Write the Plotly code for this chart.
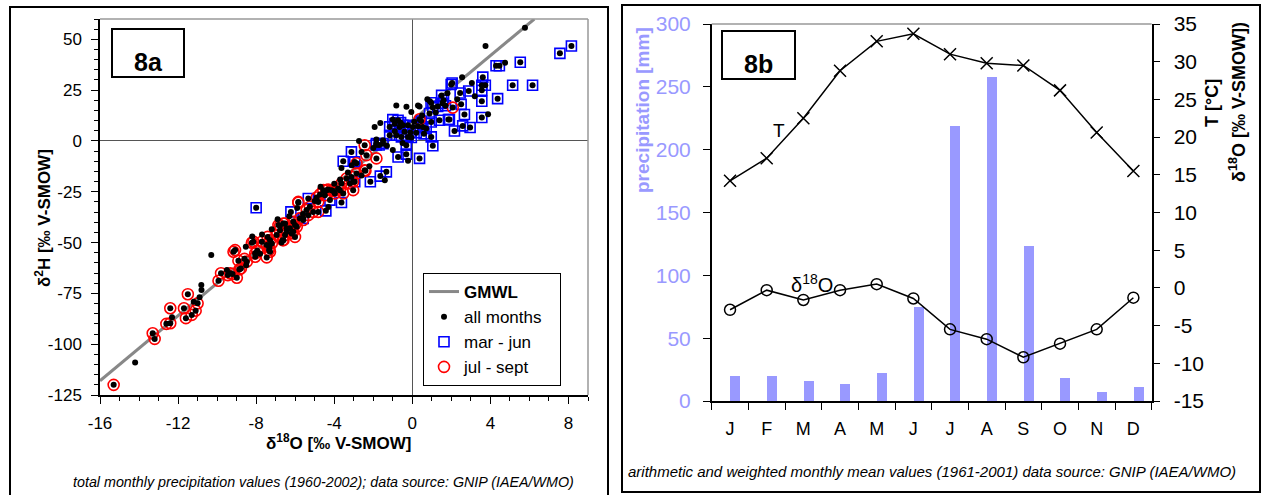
import plotly.graph_objects as go

W, H = 1263, 495

# ---------------- Panel 8a data (delta18O, delta2H) ----------------
gmwl_x = [-16.0, 6.25]
gmwl_y = [-118.0, 60.0]

marjun = [
    (8.15, 46.7), (7.56, 43.1), (5.53, 38.7), (4.29, 37.0), (4.46, 37.0), (5.14, 27.4), (6.16, 27.4),
    (3.61, 31.4), (3.56, 27.4), (3.74, 27.4), (3.56, 24.9), (4.37, 20.8), (3.56, 19.5), (3.56, 11.5),
    (2.04, 28.5), (2.45, 23.6), (2.89, 24.6), (2.50, 18.0), (2.67, 13.0), (2.58, 7.4), (2.96, 6.6),
    (2.16, 4.9), (1.90, 10.5), (1.99, 27.8), (1.50, 22.4), (1.60, 20.0), (1.70, 17.3), (1.55, 18.5),
    (1.30, 17.0), (0.96, 18.8), (1.05, 16.5), (1.39, 10.2), (1.85, 10.5), (0.97, 9.3), (0.88, 13.5),
    (0.97, 2.0), (1.05, -2.4), (0.37, -8.6),
    (-1.16, 6.9), (-0.90, 8.5), (-0.73, 10.2), (-0.65, 6.9), (-0.48, 7.7), (-0.22, 7.7), (0.03, 6.9),
    (0.29, 7.2), (0.54, 6.9), (0.71, 6.1), (-1.16, 2.8), (-0.82, 2.8), (-0.56, 2.0), (-0.22, 2.0),
    (-0.05, 1.7), (-0.40, 4.5), (-0.90, 4.8), (0.20, 4.0), (-0.31, -2.1), (-0.73, -7.9), (-0.31, -6.5),
    (-1.70, -2.0), (-1.85, -2.0), (-1.84, -1.3), (-1.50, -1.3), (-3.12, -5.4), (-3.54, -10.0),
    (-2.95, -10.3), (-1.33, -15.2), (-1.64, -17.3), (-2.15, -20.1), (-2.95, -20.1), (-3.63, -30.3),
    (-4.22, -29.1), (-5.33, -28.3), (-4.43, -34.4), (-5.59, -38.1), (-8.00, -32.9), (-6.22, -34.9),
    (-0.60, 9.0), (-1.00, 10.5), (0.45, 9.8), (-0.10, 4.2), (0.60, 3.5),
]

julsep = [
    (-15.3, -120.0), (-13.3, -94.6), (-13.2, -97.4), (-12.6, -90.0), (-12.4, -89.7), (-12.4, -82.3),
    (-11.7, -82.3), (-11.6, -87.2), (-11.5, -75.4), (-11.3, -85.6), (-11.1, -83.5), (-11.0, -79.9),
    (-9.93, -68.8), (-9.80, -65.1), (-9.45, -66.0), (-9.33, -65.1), (-9.21, -65.5), (-9.08, -53.7),
    (-9.16, -54.5), (-8.99, -67.3), (-8.86, -63.2), (-8.91, -58.9), (-8.78, -62.7), (-8.48, -59.4),
    (-8.60, -58.0), (-8.14, -49.6), (-8.05, -57.0), (-8.05, -55.3), (-7.95, -54.0), (-7.46, -57.3),
    (-7.29, -54.5), (-7.32, -52.4), (-6.64, -48.8), (-7.41, -47.2), (-7.29, -48.8), (-7.20, -50.4),
    (-7.46, -51.2), (-7.71, -49.6), (-7.34, -53.7), (-8.22, -50.1), (-6.78, -41.7), (-6.52, -40.6),
    (-6.27, -43.0), (-6.10, -44.7), (-5.92, -42.2), (-6.44, -44.7), (-6.60, -48.8), (-5.84, -30.4),
    (-2.44, -14.4), (-2.86, -16.0), (-3.12, -17.7), (-3.37, -18.5), (-3.03, -20.1), (-3.63, -20.9),
    (-3.20, -20.9), (-3.80, -23.4), (-3.03, -24.2), (-3.97, -25.8), (-4.14, -24.2), (-4.39, -24.2),
    (-4.56, -24.2), (-4.48, -26.7), (-3.71, -24.2), (-4.82, -30.0), (-5.25, -32.4), (-5.84, -30.0),
    (-5.41, -34.0), (-5.08, -34.9), (-4.82, -34.9), (-5.33, -36.5), (-5.59, -38.9), (-6.10, -39.8),
    (-6.01, -41.4), (-6.61, -40.6), (-6.86, -41.4), (-6.78, -43.9), (-6.44, -43.0), (-6.18, -45.5),
    (-6.01, -47.2), (-6.52, -46.3), (-6.95, -46.3),
    (-2.44, -2.1), (-2.35, -7.0), (-1.84, -8.6), (-2.86, -11.0), (-2.40, -14.7), (-3.54, -25.8),
    (-4.05, -24.6), (-4.31, -23.9), (-4.73, -26.3), (-4.90, -27.8), (-5.76, -38.1), (0.37, 10.7),
    (2.07, 16.4),
]

other_months = [
    (5.77, 55.7), (3.75, 46.7), (4.75, 38.5), (3.88, 13.1), (2.55, 31.4), (3.05, 28.5), (3.20, 22.0),
    (0.77, 20.5), (-0.82, 17.5), (-0.05, 14.2), (0.29, 17.5), (0.37, 17.0), (-1.93, 6.9), (-1.64, 8.8),
    (-2.73, 0.0), (-1.84, 0.7), (-1.50, 0.3), (-1.30, -2.4), (-0.22, -9.8), (-1.41, -19.3),
    (-3.63, -13.3), (-2.00, -3.5), (-2.60, -5.5), (-3.10, -12.0), (-3.30, -15.5), (-2.60, -17.0),
    (-4.00, -21.0), (-4.70, -22.5), (-5.00, -29.5), (-5.90, -33.0), (-6.30, -37.0), (-6.90, -38.5),
    (-7.20, -43.5), (-7.70, -46.0), (-8.20, -47.0), (-8.53, -52.1), (-8.51, -61.1), (-10.3, -56.1),
    (-10.81, -70.9), (-10.80, -73.3), (-10.90, -76.9), (-11.20, -79.1), (-12.31, -86.7),
    (-14.2, -109.0), (-4.30, -32.5), (-5.60, -36.0), (-2.20, -12.5), (0.50, 12.5), (1.20, 14.0),
    (2.30, 20.5), (-0.50, -1.0), (-1.00, -4.5), (0.10, 9.5), (-3.70, -19.0), (-6.70, -50.0),
    (-7.80, -55.5), (-9.50, -63.5), (0.90, 19.5), (-0.30, 16.8), (1.80, 23.5),
]

a_xticks = [-16, -12, -8, -4, 0, 4, 8]
a_yticks = [-125, -100, -75, -50, -25, 0, 25, 50]

# ---------------- Panel 8b data ----------------
months = ["J", "F", "M", "A", "M ", "J ", "J  ", "A ", "S", "O", "N", "D"]
month_labels = ["J", "F", "M", "A", "M", "J", "J", "A", "S", "O", "N", "D"]
precip = [20, 20, 16, 13.5, 22, 75, 219, 258, 123, 18, 7, 11]
temp = [14.2, 17.2, 22.5, 28.8, 32.7, 33.7, 31.0, 29.8, 29.5, 26.2, 20.6, 15.5]
d18o = [-2.9, -0.3, -1.6, -0.3, 0.5, -1.4, -5.5, -6.8, -9.2, -7.4, -5.5, -1.3]
precip_ticks = [0, 50, 100, 150, 200, 250, 300]
right_ticks = [-15, -10, -5, 0, 5, 10, 15, 20, 25, 30, 35]

FONT = "Liberation Sans, Arial, sans-serif"
BAR = "#9999ff"


def px(x):
    return x / W


def py(y):
    return 1 - y / H


def xy(pts):
    return [p[0] for p in pts], [p[1] for p in pts]


def labels(vals):
    return [str(v) for v in vals]


all_pts = other_months + marjun + julsep
ax_, ay_ = xy(all_pts)
mx, my = xy(marjun)
jx, jy = xy(julsep)

fig = go.Figure()

fig.add_trace(go.Scatter(x=gmwl_x, y=gmwl_y, mode="lines", name="<b>GMWL</b>",
                         line=dict(color="#888888", width=3), xaxis="x", yaxis="y",
                         legendrank=1, legendgroup="g1"))
fig.add_trace(go.Scatter(x=mx, y=my, mode="markers", name="mar - jun     ",
                         marker=dict(symbol="square-open", size=10, color="#0000ff",
                                     line=dict(width=1.6, color="#0000ff")),
                         xaxis="x", yaxis="y", legendrank=3, legendgroup="g3"))
fig.add_trace(go.Scatter(x=jx, y=jy, mode="markers", name="jul - sept",
                         marker=dict(symbol="circle-open", size=11, color="#ff0000",
                                     line=dict(width=1.6, color="#ff0000")),
                         xaxis="x", yaxis="y", legendrank=4, legendgroup="g4"))
fig.add_trace(go.Scatter(x=ax_, y=ay_, mode="markers", name="all months",
                         marker=dict(symbol="circle", size=6, color="black"),
                         xaxis="x", yaxis="y", legendrank=2, legendgroup="g2"))

# Panel 8b
fig.add_trace(go.Bar(x=months, y=precip, marker=dict(color=BAR, line=dict(width=0)),
                     width=0.27, offset=0, xaxis="x2", yaxis="y2", showlegend=False))
fig.add_trace(go.Scatter(x=months, y=temp, mode="lines+markers",
                         line=dict(color="black", width=1.5),
                         marker=dict(symbol="x-thin", size=12, line=dict(width=1.5, color="black")),
                         xaxis="x2", yaxis="y3", showlegend=False))
fig.add_trace(go.Scatter(x=months, y=d18o, mode="lines+markers",
                         line=dict(color="black", width=1.5),
                         marker=dict(symbol="circle-open", size=11, color="black",
                                     line=dict(width=1.5, color="black")),
                         xaxis="x2", yaxis="y3", showlegend=False))

# plot-area pixel geometry
A_L, A_R, A_T, A_B = 100, 588, 19, 395
B_L, B_R, B_T, B_B = 711.7, 1151.7, 24, 401

tickfont_a = dict(family=FONT, size=17, color="black")
tickfont_b = dict(family=FONT, size=18, color="black")

fig.update_layout(
    template="none",
    width=W, height=H, autosize=False,
    margin=dict(l=0, r=0, t=0, b=0, pad=0, autoexpand=False),
    paper_bgcolor="white", plot_bgcolor="white",
    font=dict(family=FONT, color="black"),
    bargap=0,
    xaxis=dict(domain=[px(A_L), px(A_R)], range=[-16, 9], anchor="y", automargin=False,
               tickvals=a_xticks, ticktext=labels(a_xticks), ticks="outside", ticklen=7, tickwidth=1.2,
               tickcolor="black", showline=True, linecolor="black", linewidth=1.5,
               showgrid=False, zeroline=True, zerolinecolor="#555555", zerolinewidth=1,
               tickfont=tickfont_a, ticklabelstandoff=5,
               minor=dict(dtick=1, ticks="outside", ticklen=4, tickcolor="black", tickwidth=1,
                          showgrid=False)),
    yaxis=dict(domain=[py(A_B), py(A_T)], range=[-125, 60], anchor="x", automargin=False,
               tickvals=a_yticks, ticktext=labels(a_yticks), ticks="outside", ticklen=7,
               tickwidth=1.2, tickcolor="black", showline=True, linecolor="black", linewidth=1.5,
               showgrid=False, zeroline=True, zerolinecolor="#555555", zerolinewidth=1,
               tickfont=tickfont_a, ticklabelstandoff=6,
               minor=dict(dtick=5, ticks="outside", ticklen=4, tickcolor="black", tickwidth=1,
                          showgrid=False)),
    xaxis2=dict(domain=[px(B_L), px(B_R)], anchor="y2", type="category", automargin=False,
                categoryorder="array", categoryarray=months,
                tickvals=months, ticktext=month_labels,
                range=[-0.5, 11.5], ticks="outside", tickson="boundaries", ticklen=7,
                tickcolor="black", tickwidth=1.2, showline=True, linecolor="black", linewidth=1.5,
                showgrid=False, zeroline=False, tickfont=tickfont_b, ticklabelstandoff=11),
    yaxis2=dict(domain=[py(B_B), py(B_T)], range=[0, 300], anchor="x2", automargin=False,
                tickvals=precip_ticks, ticktext=labels(precip_ticks), ticks="outside", ticklen=7,
                tickcolor="black", tickwidth=1.2, showline=True, linecolor="black", linewidth=1.5,
                showgrid=False, zeroline=False,
                tickfont=dict(family=FONT, size=21, color=BAR), ticklabelstandoff=8),
    yaxis3=dict(range=[-15, 35], overlaying="y2", side="right", anchor="x2", automargin=False,
                tickvals=right_ticks, ticktext=labels(right_ticks), ticks="outside", ticklen=7,
                tickcolor="black", tickwidth=1.2, showline=True, linecolor="black", linewidth=1.5,
                showgrid=False, zeroline=False, tickfont=dict(family=FONT, size=21, color="black"),
                ticklabelstandoff=9),
    legend=dict(x=px(423), y=py(273), xanchor="left", yanchor="top",
                bordercolor="black", borderwidth=1, bgcolor="white",
                font=dict(family=FONT, size=17, color="black"),
                traceorder="grouped", tracegroupgap=0, itemwidth=30),
)

shapes = []
line_blk = dict(color="black", width=2)
# outer frames
shapes.append(dict(type="rect", xref="paper", yref="paper", x0=px(10), x1=px(608), y0=py(500), y1=py(7),
                   line=line_blk, layer="above"))
shapes.append(dict(type="rect", xref="paper", yref="paper", x0=px(622), x1=px(1260), y0=py(492), y1=py(5),
                   line=line_blk, layer="above"))
# gray plot frames
gray = dict(color="#999999", width=1.5)
shapes.append(dict(type="line", xref="paper", yref="paper", x0=px(A_L), x1=px(A_R), y0=py(A_T), y1=py(A_T), line=gray))
shapes.append(dict(type="line", xref="paper", yref="paper", x0=px(A_R), x1=px(A_R), y0=py(A_T), y1=py(A_B), line=gray))
shapes.append(dict(type="line", xref="paper", yref="paper", x0=px(B_L), x1=px(B_R), y0=py(B_T), y1=py(B_T), line=gray))
# label boxes
shapes.append(dict(type="rect", xref="paper", yref="paper", x0=px(112), x1=px(184), y0=py(77), y1=py(29),
                   line=line_blk, fillcolor="white", layer="above"))
shapes.append(dict(type="rect", xref="paper", yref="paper", x0=px(722), x1=px(795), y0=py(79), y1=py(31),
                   line=line_blk, fillcolor="white", layer="above"))
fig.update_layout(shapes=shapes)


def ann(x, y, text, size=16, bold=False, italic=False, angle=0, color="black", xanchor="center"):
    if bold:
        text = "<b>" + text + "</b>"
    if italic:
        text = "<i>" + text + "</i>"
    return dict(x=px(x), y=py(y), xref="paper", yref="paper", text=text, showarrow=False,
                textangle=angle, xanchor=xanchor, yanchor="middle",
                font=dict(family=FONT, size=size, color=color))


annotations = [
    ann(148, 62, "8a", size=25, bold=True),
    ann(758, 64, "8b", size=25, bold=True),
    ann(43, 218, "δ<sup>2</sup>H [‰ V-SMOW]", size=17, bold=True, angle=-90),
    ann(338, 442, "δ<sup>18</sup>O [‰ V-SMOW]", size=17, bold=True),
    ann(323, 482, "total monthly precipitation values (1960-2002); data source: GNIP (IAEA/WMO)",
        size=14.3, italic=True),
    ann(642, 110, "precipitation [mm]", size=19, bold=True, angle=-90, color=BAR),
    ann(1212, 103, "T [°C]", size=18, bold=True, angle=-90),
    ann(1237, 102, "δ<sup>18</sup>O [‰ V-SMOW])", size=18, bold=True, angle=-90),
    ann(779, 130, "T", size=19),
    ann(812, 283, "δ<sup>18</sup>O", size=20),
    ann(932, 471, "arithmetic and weighted monthly mean values (1961-2001) data source: GNIP (IAEA/WMO)",
        size=15, italic=True),
]
fig.update_layout(annotations=annotations)

fig.write_html("out.html", config={"displayModeBar": False},
               post_script="document.body.style.margin='0px';document.body.style.padding='0px';")
